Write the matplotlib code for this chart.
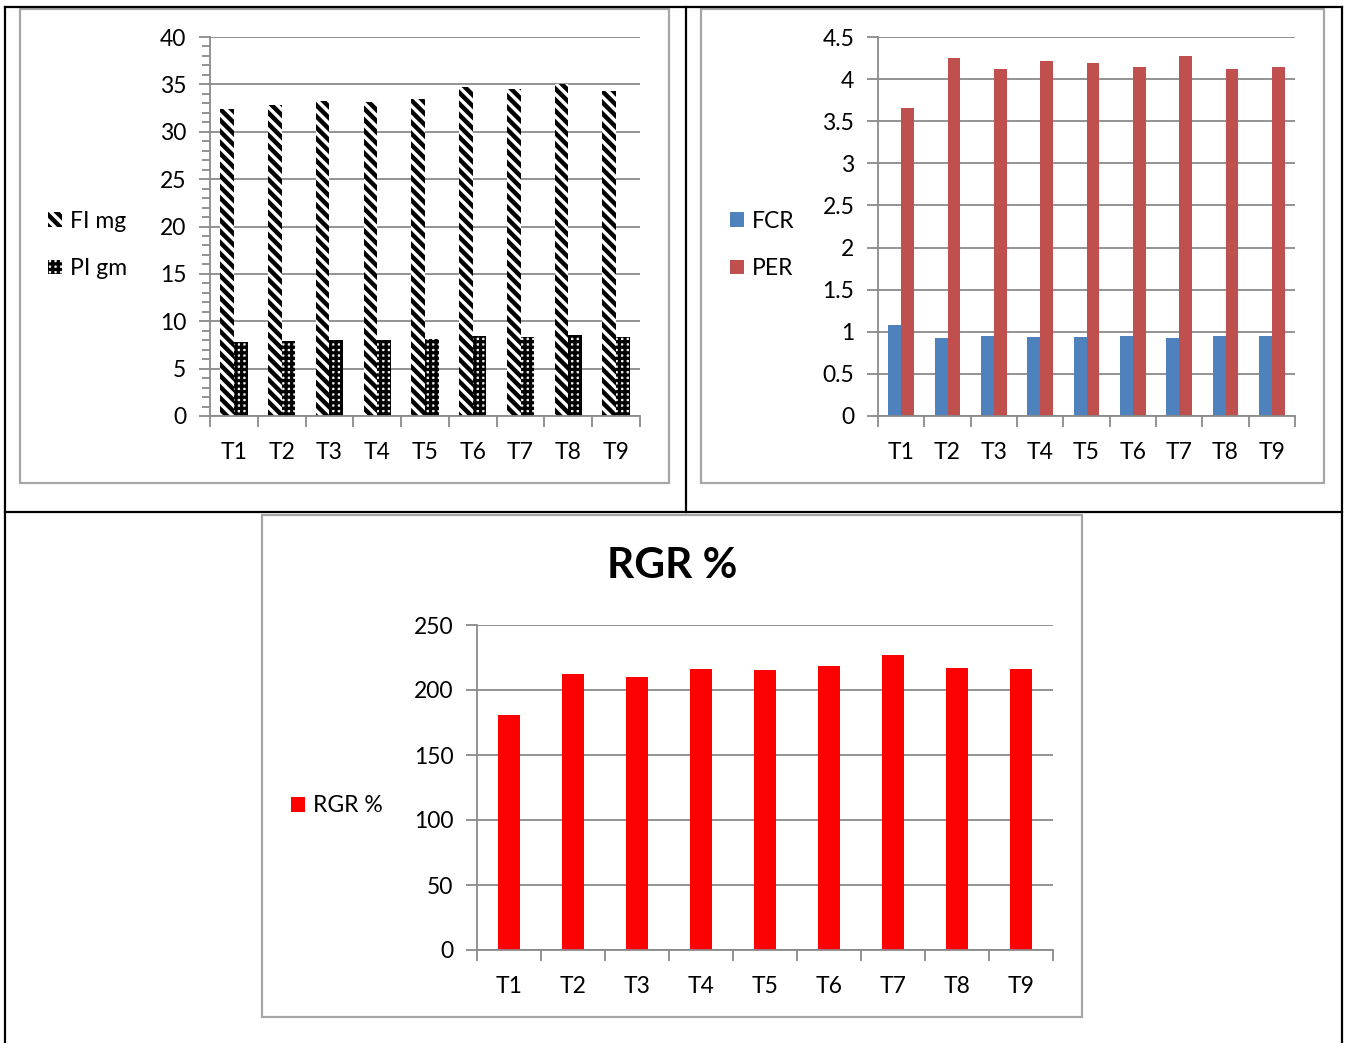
import matplotlib
matplotlib.use("Agg")
import matplotlib.pyplot as plt
from matplotlib.patches import Rectangle
from matplotlib.lines import Line2D
import numpy as np

# ---- data ----
treatments = ["T1", "T2", "T3", "T4", "T5", "T6", "T7", "T8", "T9"]
fi_mg = [32.4, 32.8, 33.2, 33.1, 33.5, 34.75, 34.5, 35.05, 34.3]
pi_gm = [7.85, 7.95, 8.05, 8.05, 8.1, 8.45, 8.35, 8.5, 8.3]
fcr = [1.08, 0.925, 0.955, 0.935, 0.935, 0.955, 0.925, 0.955, 0.945]
per = [3.655, 4.245, 4.115, 4.215, 4.195, 4.14, 4.275, 4.115, 4.145]
rgr = [180.5, 212.0, 209.7, 215.9, 215.1, 218.2, 226.7, 217.2, 215.9]

W, H = 1346, 1043
plt.rcParams["font.family"] = ["Lato", "DejaVu Sans"]
plt.rcParams["font.size"] = 16.5
plt.rcParams["hatch.linewidth"] = 3.2

GRID = "#8a8a8a"
fig = plt.figure(figsize=(W / 100, H / 100), dpi=100)


def px_axes(x0, y0, x1, y1):
    return fig.add_axes([x0 / W, 1 - y1 / H, (x1 - x0) / W, (y1 - y0) / H])


def fx(x):
    return x / W


def fy(y):
    return 1 - y / H


def style_axes(ax, ymax, ystep, minor=None):
    n = len(treatments)
    ax.set_xlim(-0.5, n - 0.5)
    ax.set_ylim(0, ymax)
    ax.set_yticks(np.arange(0, ymax + ystep / 2, ystep))
    ax.set_xticks(np.arange(n))
    ax.set_xticklabels(treatments)
    ax.set_xticks(np.arange(-0.5, n, 1.0), minor=True)
    ax.tick_params(axis="x", which="major", length=0, pad=19)
    ax.tick_params(axis="x", which="minor", length=8, width=1.3, color=GRID)
    ax.tick_params(axis="y", which="major", length=8, width=1.3, color=GRID, pad=9)
    if minor is not None:
        ax.set_yticks(np.arange(0, ymax + minor / 2, minor), minor=True)
        ax.tick_params(axis="y", which="minor", length=6, width=1.3, color=GRID)
    ax.yaxis.grid(True, color=GRID, linewidth=1.3)
    ax.set_axisbelow(True)
    for s in ("top", "right"):
        ax.spines[s].set_visible(False)
    for s in ("left", "bottom"):
        ax.spines[s].set_color(GRID)
        ax.spines[s].set_linewidth(1.3)


def thin_hatch(patches, lw):
    for p in patches:
        if hasattr(p, "set_hatch_linewidth"):
            p.set_hatch_linewidth(lw)


x = np.arange(len(treatments))

# ---- FI / PI ----
ax1 = px_axes(210, 37, 640, 416)
w1 = 0.285
ax1.bar(x - w1 / 2, fi_mg, w1, facecolor="white", edgecolor="black",
        linewidth=0, hatch="\\\\\\", label="FI mg")
pi_bars = ax1.bar(x + w1 / 2, pi_gm, w1, facecolor="#f0f0f0", edgecolor="black",
                  linewidth=0, hatch="+++", label="PI gm")
thin_hatch(pi_bars, 2.3)
style_axes(ax1, 40, 5, minor=1)
leg1 = ax1.legend(loc="center left", bbox_to_anchor=(fx(48), fy(245)),
                  bbox_transform=fig.transFigure, frameon=False, borderpad=0,
                  borderaxespad=0, handlelength=0.6, handleheight=0.6,
                  handletextpad=0.35, labelspacing=1.15)
thin_hatch(leg1.get_patches()[1:], 2.3)

# ---- FCR / PER ----
ax2 = px_axes(878, 37, 1295, 416)
w2 = 0.28
ax2.bar(x - w2 / 2, fcr, w2, color="#4f81bd", label="FCR")
ax2.bar(x + w2 / 2, per, w2, color="#c0504d", label="PER")
style_axes(ax2, 4.5, 0.5)
ax2.set_yticklabels(["0", "0.5", "1", "1.5", "2", "2.5", "3", "3.5", "4", "4.5"])
ax2.legend(loc="center left", bbox_to_anchor=(fx(730), fy(245)),
           bbox_transform=fig.transFigure, frameon=False, borderpad=0,
           borderaxespad=0, handlelength=0.6, handleheight=0.6,
           handletextpad=0.35, labelspacing=1.15)

# ---- RGR ----
ax3 = px_axes(477, 625, 1053, 950)
ax3.bar(x, rgr, 0.35, color="#ff0000", label="RGR %")
style_axes(ax3, 250, 50)
ax3.legend(loc="center left", bbox_to_anchor=(fx(291), fy(806)),
           bbox_transform=fig.transFigure, frameon=False, borderpad=0,
           borderaxespad=0, handlelength=0.6, handleheight=0.6,
           handletextpad=0.35)
fig.text(fx(672), fy(566), "RGR %", ha="center", va="center",
         fontsize=30.5, fontweight="bold")

# ---- chart frames ----
for (x0, y0, x1, y1) in [(20, 9, 669, 483), (701, 9, 1324, 483), (262, 515, 1082, 1017)]:
    fig.add_artist(Rectangle((fx(x0), fy(y1)), fx(x1) - fx(x0), fy(y0) - fy(y1),
                             transform=fig.transFigure, fill=False,
                             edgecolor="#a6a6a6", linewidth=1.6))

# ---- table rules ----
rules = [((5, 7), (1342, 7)), ((5, 7), (5, 1043)), ((1342, 7), (1342, 1043)),
         ((686, 7), (686, 512)), ((5, 512), (1342, 512))]
for (a, b) in rules:
    fig.add_artist(Line2D([fx(a[0]), fx(b[0])], [fy(a[1]), fy(b[1])],
                          transform=fig.transFigure, color="black", linewidth=1.6))

fig.savefig("out.png", dpi=100, facecolor="white")
